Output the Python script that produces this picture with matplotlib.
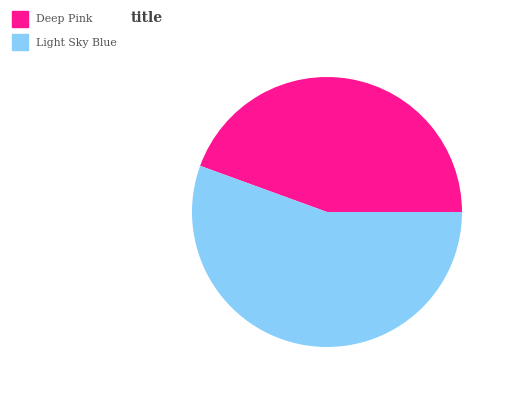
import matplotlib
matplotlib.use("Agg")
import matplotlib.pyplot as plt
from matplotlib.patches import Rectangle

labels = ["Deep Pink", "Light Sky Blue"]
values = [44, 55]
colors = ["#ff1493", "#87cefa"]

plt.rcParams['font.family'] = ['DejaVu Serif']
W, H = 532, 400
fig = plt.figure(figsize=(W/100, H/100), dpi=100)

cx, cy, r = 327, 212, 135
ax = fig.add_axes([(cx - r)/W, (H - cy - r)/H, 2*r/W, 2*r/H])
ax.pie(values, colors=colors, startangle=0, counterclock=True, radius=1,
       wedgeprops=dict(linewidth=0))
ax.set_xlim(-1, 1)
ax.set_ylim(-1, 1)
ax.set_aspect('equal')
ax.axis('off')

fig.text(147/W, 1 - 17.5/H, "title", ha='center', va='center', fontsize=10,
         fontweight='bold', color='#444444')

for i, (lab, col) in enumerate(zip(labels, colors)):
    y = 19 + i*23
    fig.patches.append(Rectangle((12/W, 1 - (y+8)/H), 16/W, 16/H,
                                 transform=fig.transFigure, color=col))
    fig.text(36/W, 1 - (y+0.5)/H, lab, ha='left', va='center', fontsize=7.8,
             color='#555555')

fig.savefig("out.png", dpi=100)
